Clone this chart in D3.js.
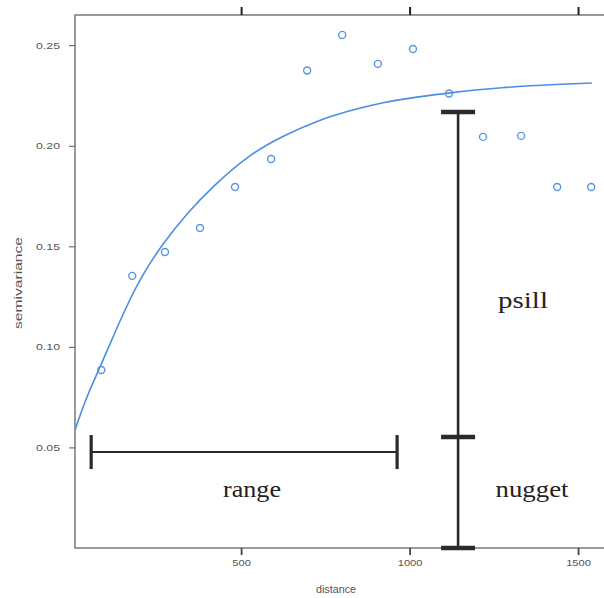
<!DOCTYPE html>
<html><head><meta charset="utf-8">
<script src="https://cdn.jsdelivr.net/npm/d3@7"></script>
<style>body{margin:0;background:#fff}svg{display:block}</style>
</head><body>
<script>
// ---- data ----
const sampleDistance = [85,177,274,378,482,589,696,800,906,1010,1117,1218,1331,1438,1539];
const sampleGamma    = [0.0885,0.1353,0.1472,0.1591,0.1795,0.1934,0.2374,0.2551,0.2407,0.2481,0.2260,0.2044,0.2049,0.1795,0.1795];
const modelDistance  = [7,43,82,141,200,269,340,417,527,625,726,823,921,1022,1117,1269,1447,1541];
const modelGamma     = [0.0587,0.0760,0.0900,0.1134,0.1343,0.1517,0.1666,0.1800,0.1960,0.2050,0.2125,0.2175,0.2216,0.2243,0.2263,0.2290,0.2306,0.2312];
const xTicks = [500,1000,1500];
const yTicks = [0.05,0.10,0.15,0.20,0.25];
const rangeBar = {from:55, to:963, gamma:0.0477};
const sillBar  = {distance:1144, bottom:0, nugget:0.0552, top:0.2168};
const labels = {x:"distance", y:"semivariance", range:"range", psill:"psill", nugget:"nugget"};

const W=604,H=598;
const svg=d3.select("body").append("svg").attr("width",W).attr("height",H);
const x=d3.scaleLinear().domain([7,1580]).range([75,605]);
const y=d3.scaleLinear().domain([0,0.265]).range([548,15]);
const frame="#707070";

// frame
svg.append("rect").attr("x",x(7)).attr("y",y(0.265)).attr("width",x(1580)-x(7)).attr("height",y(0)-y(0.265))
  .attr("fill","none").attr("stroke",frame).attr("stroke-width",1.4);

// left axis
const gy=svg.append("g").attr("transform",`translate(${x(7)},0)`)
  .call(d3.axisLeft(y).tickValues(yTicks).tickSize(6).tickFormat(d3.format(".2f")));
gy.select(".domain").remove();
gy.selectAll("line").attr("stroke","#555");
gy.selectAll("text").attr("fill","#555").attr("font-family","Liberation Sans, Arial").attr("font-size",9)
  .attr("x",-15).attr("textLength",24).attr("lengthAdjust","spacingAndGlyphs");

// bottom axis
const gx=svg.append("g").attr("transform",`translate(0,${y(0)})`)
  .call(d3.axisBottom(x).tickValues(xTicks).tickSize(7).tickFormat(d3.format("d")));
gx.select(".domain").remove();
gx.selectAll("line").attr("stroke","#444").attr("stroke-width",1.8);
gx.selectAll("text").attr("fill","#555").attr("font-family","Liberation Sans, Arial").attr("font-size",9.5)
  .attr("y",11).attr("textLength",d=>String(d).length*6.2).attr("lengthAdjust","spacingAndGlyphs");

// top ticks
const gt=svg.append("g").attr("transform",`translate(0,${y(0.265)})`)
  .call(d3.axisTop(x).tickValues(xTicks).tickSize(8).tickFormat(""));
gt.select(".domain").remove();
gt.selectAll("line").attr("stroke","#222").attr("stroke-width",2);

// axis titles
svg.append("text").attr("x",336).attr("y",593).attr("text-anchor","middle")
  .attr("font-family","Liberation Sans, Arial").attr("font-size",10).attr("fill","#555")
  .attr("textLength",40).attr("lengthAdjust","spacingAndGlyphs").text(labels.x);
svg.append("text").attr("transform","translate(22,283) rotate(-90)").attr("text-anchor","middle")
  .attr("font-family","Liberation Sans, Arial").attr("font-size",10).attr("fill","#555")
  .attr("textLength",92).attr("lengthAdjust","spacingAndGlyphs").text(labels.y);

// model curve
const model=modelDistance.map((d,i)=>[d,modelGamma[i]]);
svg.append("path").datum(model)
  .attr("d",d3.line().x(d=>x(d[0])).y(d=>y(d[1])).curve(d3.curveBasis))
  .attr("fill","none").attr("stroke","#4a8ee6").attr("stroke-width",1.6);

// sample points
svg.append("g").selectAll("circle").data(sampleDistance.map((d,i)=>[d,sampleGamma[i]])).join("circle")
  .attr("cx",d=>x(d[0])).attr("cy",d=>y(d[1])).attr("r",3.5)
  .attr("fill","none").attr("stroke","#5a93e0").attr("stroke-width",1.4);

// annotations
const ink="#2a2a2a";
const ann=svg.append("g").attr("stroke",ink);
ann.append("line").attr("x1",x(rangeBar.from)).attr("x2",x(rangeBar.to))
  .attr("y1",y(rangeBar.gamma)).attr("y2",y(rangeBar.gamma)).attr("stroke-width",2);
[rangeBar.from,rangeBar.to].forEach(v=>{
  ann.append("line").attr("x1",x(v)).attr("x2",x(v))
    .attr("y1",y(rangeBar.gamma)-17).attr("y2",y(rangeBar.gamma)+17).attr("stroke-width",3.2);
});
ann.append("line").attr("x1",x(sillBar.distance)).attr("x2",x(sillBar.distance))
  .attr("y1",y(sillBar.top)).attr("y2",y(sillBar.bottom)).attr("stroke-width",2.6);
[sillBar.top,sillBar.nugget,sillBar.bottom].forEach(v=>{
  ann.append("line").attr("x1",x(sillBar.distance)-17).attr("x2",x(sillBar.distance)+17)
    .attr("y1",y(v)).attr("y2",y(v)).attr("stroke-width",4.5);
});

const serif="Liberation Serif, Times New Roman, serif";
svg.append("text").attr("x",252).attr("y",497).attr("text-anchor","middle").attr("font-family",serif)
  .attr("font-size",24).attr("fill","#222").attr("textLength",58).attr("lengthAdjust","spacingAndGlyphs").text(labels.range);
svg.append("text").attr("x",523).attr("y",308).attr("text-anchor","middle").attr("font-family",serif)
  .attr("font-size",24).attr("fill","#222").attr("textLength",50).attr("lengthAdjust","spacingAndGlyphs").text(labels.psill);
svg.append("text").attr("x",532).attr("y",497).attr("text-anchor","middle").attr("font-family",serif)
  .attr("font-size",24).attr("fill","#222").attr("textLength",73).attr("lengthAdjust","spacingAndGlyphs").text(labels.nugget);
</script>
</body></html>
